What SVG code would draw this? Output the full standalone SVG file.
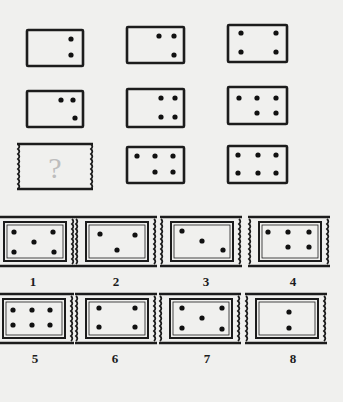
<svg xmlns="http://www.w3.org/2000/svg" xmlns:xlink="http://www.w3.org/1999/xlink" width="343" height="402" viewBox="0 0 343 402">
<style>
.box{fill:none;stroke:#1c1c1c;stroke-width:2.6}
.ln{fill:none;stroke:#1c1c1c;stroke-width:2.6}
.wv{fill:none;stroke:#1c1c1c;stroke-width:1.8}
.in1{fill:none;stroke:#1c1c1c;stroke-width:2}
.in2{fill:none;stroke:#1c1c1c;stroke-width:0.8}
.d{fill:#111}
.lbl{font-family:"Liberation Serif",serif;font-weight:bold;font-size:13px;fill:#1c1c1c;text-anchor:middle}
.q{font-family:"Liberation Serif",serif;font-size:30px;fill:#bdbdbd;text-anchor:middle}
</style>
<defs>
<path id="wave" d="M0,0 q2.6,2.5 0,5 q2.6,2.5 0,5 q2.6,2.5 0,5 q2.6,2.5 0,5 q2.6,2.5 0,5 q2.6,2.5 0,5 q2.6,2.5 0,5 q2.6,2.5 0,5 q2.6,2.5 0,5"/>
<g id="frame">
<path class="ln" d="M0,0 H82 M0,49 H82"/>
<use xlink:href="#wave" class="wv" x="1" y="2"/>
<use xlink:href="#wave" class="wv" x="79" y="2"/>
<rect class="in1" x="11" y="5" width="62" height="39"/>
<rect class="in2" x="14" y="8" width="56" height="33"/>
</g>
</defs>
<rect width="343" height="402" fill="#f0f0ee"/>

<g id="m11"><rect class="box" x="27" y="30" width="56" height="36" rx="1"/>
<circle class="d" cx="71" cy="39" r="2.6"/><circle class="d" cx="71" cy="55" r="2.6"/></g>
<g id="m12"><rect class="box" x="127" y="27" width="57" height="36" rx="1"/>
<circle class="d" cx="159" cy="36" r="2.6"/><circle class="d" cx="174" cy="36" r="2.6"/><circle class="d" cx="174" cy="55" r="2.6"/></g>
<g id="m13"><rect class="box" x="228" y="25" width="59" height="37" rx="1"/>
<circle class="d" cx="241" cy="33" r="2.6"/><circle class="d" cx="276" cy="33" r="2.6"/><circle class="d" cx="241" cy="52" r="2.6"/><circle class="d" cx="276" cy="52" r="2.6"/></g>

<g id="m21"><rect class="box" x="27" y="91" width="56" height="36" rx="1"/>
<circle class="d" cx="61" cy="100" r="2.6"/><circle class="d" cx="73" cy="100" r="2.6"/><circle class="d" cx="75" cy="118" r="2.6"/></g>
<g id="m22"><rect class="box" x="127" y="89" width="57" height="38" rx="1"/>
<circle class="d" cx="161" cy="98" r="2.6"/><circle class="d" cx="175" cy="98" r="2.6"/><circle class="d" cx="161" cy="117" r="2.6"/><circle class="d" cx="175" cy="117" r="2.6"/></g>
<g id="m23"><rect class="box" x="228" y="87" width="59" height="37" rx="1"/>
<circle class="d" cx="239" cy="98" r="2.6"/><circle class="d" cx="257" cy="98" r="2.6"/><circle class="d" cx="276" cy="98" r="2.6"/><circle class="d" cx="257" cy="113" r="2.6"/><circle class="d" cx="276" cy="113" r="2.6"/></g>

<g id="m31"><path class="ln" d="M17,144 H93 M17,189 H93"/>
<use xlink:href="#wave" class="wv" x="18" y="144"/>
<use xlink:href="#wave" class="wv" x="91" y="144"/>
<text class="q" x="55" y="178">?</text></g>
<g id="m32"><rect class="box" x="127" y="147" width="57" height="36" rx="1"/>
<circle class="d" cx="137" cy="156" r="2.6"/><circle class="d" cx="155" cy="156" r="2.6"/><circle class="d" cx="173" cy="156" r="2.6"/><circle class="d" cx="155" cy="172" r="2.6"/><circle class="d" cx="173" cy="172" r="2.6"/></g>
<g id="m33"><rect class="box" x="228" y="146" width="59" height="37" rx="1"/>
<circle class="d" cx="238" cy="155" r="2.6"/><circle class="d" cx="258" cy="155" r="2.6"/><circle class="d" cx="276" cy="155" r="2.6"/><circle class="d" cx="238" cy="173" r="2.6"/><circle class="d" cx="258" cy="173" r="2.6"/><circle class="d" cx="276" cy="173" r="2.6"/></g>

<g id="opt1"><use xlink:href="#frame" x="-7" y="217"/>
<circle class="d" cx="14" cy="232" r="2.6"/><circle class="d" cx="53" cy="232" r="2.6"/><circle class="d" cx="34" cy="242" r="2.6"/><circle class="d" cx="14" cy="252" r="2.6"/><circle class="d" cx="54" cy="252" r="2.6"/>
<text class="lbl" x="33" y="286">1</text></g>
<g id="opt2"><use xlink:href="#frame" x="75" y="217"/>
<circle class="d" cx="100" cy="234" r="2.6"/><circle class="d" cx="135" cy="235" r="2.6"/><circle class="d" cx="117" cy="250" r="2.6"/>
<text class="lbl" x="116" y="286">2</text></g>
<g id="opt3"><use xlink:href="#frame" x="160" y="217"/>
<circle class="d" cx="182" cy="231" r="2.6"/><circle class="d" cx="202" cy="241" r="2.6"/><circle class="d" cx="223" cy="250" r="2.6"/>
<text class="lbl" x="206" y="286">3</text></g>
<g id="opt4"><use xlink:href="#frame" x="248" y="217"/>
<circle class="d" cx="268" cy="232" r="2.6"/><circle class="d" cx="288" cy="232" r="2.6"/><circle class="d" cx="309" cy="232" r="2.6"/><circle class="d" cx="288" cy="247" r="2.6"/><circle class="d" cx="309" cy="247" r="2.6"/>
<text class="lbl" x="293" y="286">4</text></g>

<g id="opt5"><use xlink:href="#frame" x="-8" y="294"/>
<circle class="d" cx="13" cy="310" r="2.6"/><circle class="d" cx="32" cy="310" r="2.6"/><circle class="d" cx="50" cy="310" r="2.6"/><circle class="d" cx="13" cy="325" r="2.6"/><circle class="d" cx="32" cy="325" r="2.6"/><circle class="d" cx="50" cy="325" r="2.6"/>
<text class="lbl" x="35" y="363">5</text></g>
<g id="opt6"><use xlink:href="#frame" x="75" y="294"/>
<circle class="d" cx="99" cy="308" r="2.6"/><circle class="d" cx="135" cy="308" r="2.6"/><circle class="d" cx="99" cy="327" r="2.6"/><circle class="d" cx="135" cy="327" r="2.6"/>
<text class="lbl" x="115" y="363">6</text></g>
<g id="opt7"><use xlink:href="#frame" x="159" y="294"/>
<circle class="d" cx="182" cy="308" r="2.6"/><circle class="d" cx="222" cy="308" r="2.6"/><circle class="d" cx="202" cy="318" r="2.6"/><circle class="d" cx="182" cy="328" r="2.6"/><circle class="d" cx="222" cy="329" r="2.6"/>
<text class="lbl" x="207" y="363">7</text></g>
<g id="opt8"><use xlink:href="#frame" x="245" y="294"/>
<circle class="d" cx="289" cy="312" r="2.6"/><circle class="d" cx="289" cy="328" r="2.6"/>
<text class="lbl" x="293" y="363">8</text></g>
<g id="connectors"/>
</svg>
